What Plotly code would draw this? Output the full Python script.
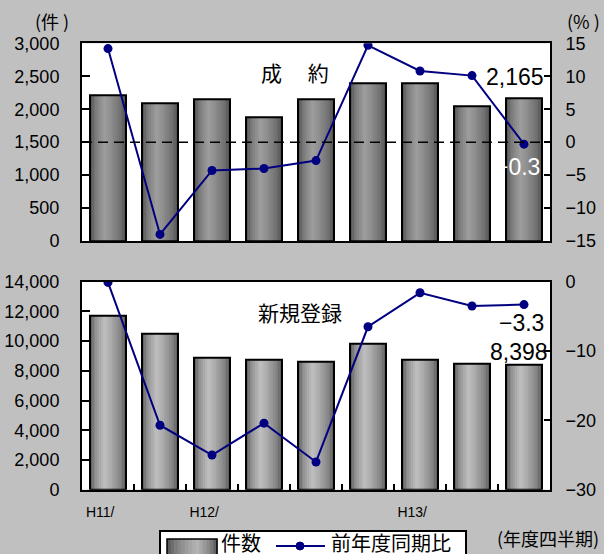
import plotly.graph_objects as go

# Quarterly figures (fiscal-year quarters)
quarters = ["H11/", "", "H12/", "", "", "", "H13/", "", ""]
contracts = [2210, 2090, 2150, 1880, 2150, 2390, 2390, 2050, 2165]          # 成約 件数
contracts_yoy = [14.2, -14.0, -4.3, -4.0, -2.8, 14.7, 10.8, 10.1, -0.3]     # 成約 前年度同期比 (%)
listings = [11700, 10500, 8880, 8750, 8620, 9830, 8750, 8460, 8398]         # 新規登録 件数
listings_yoy = [-0.1, -20.7, -25.0, -20.4, -26.0, -6.5, -1.6, -3.5, -3.3]   # 新規登録 前年度同期比 (%)
series_names = ["件数", "前年度同期比"]

xpos = list(range(len(quarters)))

NUM_FONT = "Arial, Liberation Sans, sans-serif"
JP_FONT = "Noto Sans CJK JP, sans-serif"
NAVY = "#000080"
BAR_W = 0.69
N_STRIPS = 20
W, H = 604, 554


def px(x):
    return x / W


def py(y):
    return 1 - y / H


def shade(t, edge, peak, peak_at=0.4):
    """Grey level across a bar face: dark rims, light band left of centre."""
    f = t / peak_at if t <= peak_at else (1 - t) / (1 - peak_at)
    f = max(0.0, f) ** 0.6
    v = int(round(edge + (peak - edge) * f))
    return f"rgb({v},{v},{v})"


def add_bars(fig, values, xa, ya, edge, peak):
    # cylinder-like shading built from narrow vertical strips
    step = BAR_W / N_STRIPS
    for i in range(N_STRIPS):
        off = -BAR_W / 2 + i * step
        w = min(step * 1.8, BAR_W / 2 - off)
        t = (i + 0.5) / N_STRIPS
        fig.add_trace(go.Bar(x=xpos, y=values, width=w, offset=off,
                             marker=dict(color=shade(t, edge, peak), line=dict(width=0)),
                             xaxis=xa, yaxis=ya, hoverinfo="skip"))
    # outline on top
    fig.add_trace(go.Bar(x=xpos, y=values, width=BAR_W, name=series_names[0],
                         marker=dict(color="rgba(0,0,0,0)", line=dict(color="black", width=2)),
                         xaxis=xa, yaxis=ya, hoverinfo="skip"))


def add_ratio(fig, values, xa, ya):
    fig.add_trace(go.Scatter(x=xpos, y=values, mode="lines+markers", name=series_names[1],
                             line=dict(color=NAVY, width=2),
                             marker=dict(color=NAVY, size=9),
                             xaxis=xa, yaxis=ya, hoverinfo="skip"))


fig = go.Figure()
add_bars(fig, contracts, "x", "y", 72, 158)
add_ratio(fig, contracts_yoy, "x", "y2")
add_bars(fig, listings, "x2", "y3", 80, 192)
add_ratio(fig, listings_yoy, "x2", "y4")

xdom = [px(82), px(550)]
top_dom = [py(241), py(43.3)]
bot_dom = [py(489.7), py(281.7)]

tick_font = dict(family=NUM_FONT, size=18, color="black")
frame = dict(showline=True, linecolor="black", linewidth=2, mirror=True, showgrid=False,
             zeroline=False, automargin=False)

left_axis = dict(frame, ticks="inside", ticklen=8, tickwidth=2, tickcolor="black",
                 tickfont=tick_font, tickformat=",", ticklabelstandoff=17)
right_axis = dict(showgrid=False, zeroline=False, showline=True, linecolor="black", linewidth=2,
                  automargin=False, ticks="inside", ticklen=6, tickwidth=2, tickcolor="black",
                  tickfont=tick_font, ticklabelstandoff=10)

fig.update_layout(
    width=W, height=H,
    margin=dict(l=0, r=0, t=0, b=0, autoexpand=False),
    paper_bgcolor="#c0c0c0", plot_bgcolor="white",
    barmode="overlay", bargap=0, showlegend=False,
    xaxis=dict(frame, domain=xdom, anchor="y", range=[-0.5, len(xpos) - 0.5],
               showticklabels=False, ticks=""),
    yaxis=dict(left_axis, domain=top_dom, anchor="x", range=[0, 3000], dtick=500),
    yaxis2=dict(right_axis, overlaying="y", side="right", anchor="x", range=[-15, 15], dtick=5),
    xaxis2=dict(frame, domain=xdom, anchor="y3", range=[-0.5, len(xpos) - 0.5],
                tickvals=xpos, ticktext=[q + "\u00a0" * 4 if q else q for q in quarters],
                ticks="", tickfont=dict(family=NUM_FONT, size=14, color="black"),
                ticklabelstandoff=8,
                minor=dict(tickvals=[p + 0.5 for p in xpos[:-1]], ticks="inside",
                           ticklen=6, tickwidth=2, tickcolor="black")),
    yaxis3=dict(left_axis, domain=bot_dom, anchor="x2", range=[0, 14000], dtick=2000),
    yaxis4=dict(right_axis, overlaying="y3", side="right", anchor="x2", range=[-30, 0], dtick=10),
)

# dashed reference line at 1,500 件 / 0 %
fig.add_shape(type="line", xref="x domain", yref="y2", x0=0, x1=1, y0=0, y1=0,
              line=dict(color="black", width=1.5, dash="10px,6px"))

# legend box drawn along the bottom edge
legend_shapes = [
    dict(type="rect", x0=px(160), x1=px(466), y0=py(531), y1=py(566),
         fillcolor="white", line=dict(color="black", width=2)),
]
sw_x0, sw_x1, sw_y0, sw_y1 = 167, 217, 539, 558
n_sw = 14
for i in range(n_sw):
    a = sw_x0 + (sw_x1 - sw_x0) * i / n_sw
    b = sw_x0 + (sw_x1 - sw_x0) * (i + 1) / n_sw
    legend_shapes.append(dict(type="rect", x0=px(a), x1=px(b + 0.6), y0=py(sw_y0), y1=py(sw_y1),
                              fillcolor=shade((i + 0.5) / n_sw, 72, 180, 0.6), line=dict(width=0)))
legend_shapes += [
    dict(type="rect", x0=px(sw_x0), x1=px(sw_x1), y0=py(sw_y0), y1=py(sw_y1),
         fillcolor="rgba(0,0,0,0)", line=dict(color="black", width=1.5)),
    dict(type="line", x0=px(276), x1=px(325), y0=py(546), y1=py(546),
         line=dict(color=NAVY, width=2)),
    dict(type="circle", x0=px(296), x1=px(304), y0=py(550), y1=py(542),
         fillcolor=NAVY, line=dict(color=NAVY, width=1)),
]
for s in legend_shapes:
    fig.add_shape(xref="paper", yref="paper", **s)


def fmt_pct(v):
    return f"{v:.1f}".replace("-", "\u2212")


ann = [
    dict(text="(件 )", x=px(52), y=py(21), font=dict(family=JP_FONT, size=18)),
    dict(text="(% )", x=px(583), y=py(21), font=dict(family=JP_FONT, size=18)),
    dict(text="成\u3000 約", x=px(295), y=py(72), font=dict(family=JP_FONT, size=21)),
    dict(text="新規登録", x=px(300), y=py(312), font=dict(family=JP_FONT, size=21)),
    dict(text=f"{contracts[-1]:,}", x=px(546), y=py(77), xanchor="right",
         font=dict(family=NUM_FONT, size=23)),
    dict(text=fmt_pct(contracts_yoy[-1]), x=px(542), y=py(167), xanchor="right",
         font=dict(family=NUM_FONT, size=23, color="white")),
    dict(text=fmt_pct(listings_yoy[-1]), x=px(546), y=py(323), xanchor="right",
         font=dict(family=NUM_FONT, size=23)),
    dict(text=f"{listings[-1]:,}", x=px(550), y=py(352), xanchor="right",
         font=dict(family=NUM_FONT, size=23)),
    dict(text="(年度四半期)", x=px(548), y=py(538), font=dict(family=JP_FONT, size=18)),
    dict(text=series_names[0], x=px(219), y=py(542), xanchor="left",
         font=dict(family=JP_FONT, size=20)),
    dict(text=series_names[1], x=px(329), y=py(542), xanchor="left",
         font=dict(family=JP_FONT, size=20)),
]
for a in ann:
    a.setdefault("xanchor", "center")
    a["font"].setdefault("color", "black")
    fig.add_annotation(xref="paper", yref="paper", yanchor="middle", showarrow=False, **a)

fig.write_html("out.html")
